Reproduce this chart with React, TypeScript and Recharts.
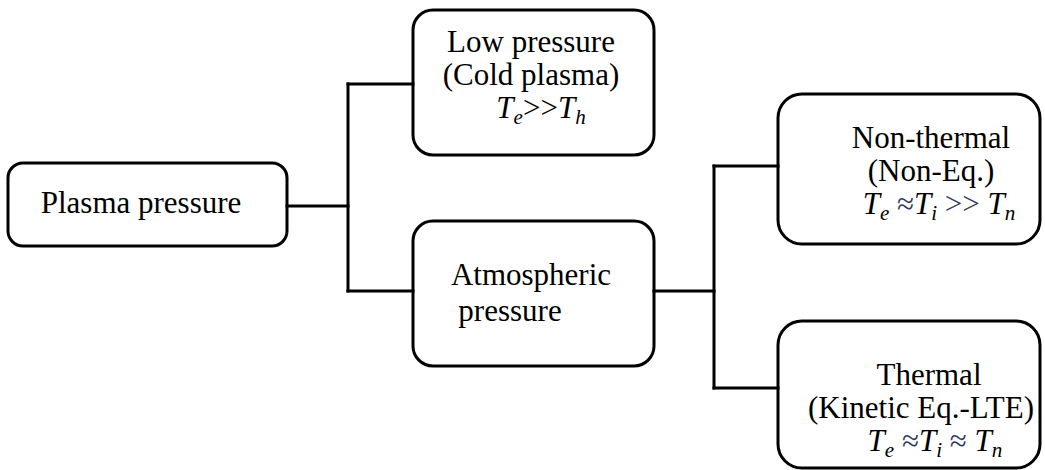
import React from "react"
import {
  ScatterChart,
  Scatter,
  XAxis,
  YAxis,
  ReferenceArea,
  ReferenceLine,
} from "recharts"

const W = 1045
const H = 470

// tree nodes
const nodeNames = [
  "Plasma pressure",
  "Low pressure",
  "Atmospheric pressure",
  "Non-thermal",
  "Thermal",
]
const nodeText = [
  ["Plasma pressure"],
  ["Low pressure", "(Cold plasma)", "$T_e>>T_h"],
  ["Atmospheric", "pressure"],
  ["Non-thermal", "(Non-Eq.)", "$T_e ≈T_i >> T_n"],
  ["Thermal", "(Kinetic Eq.-LTE)", "$T_e ≈T_i ≈ T_n"],
]
const nodeParent = [-1, 0, 0, 2, 2]

// box extents in sheet units
const boxX0 = [8, 413, 413, 778, 778]
const boxX1 = [287, 654, 654, 1040, 1040]
const boxY0 = [163, 10, 221, 94, 321]
const boxY1 = [246, 155, 366, 244, 468]
const portY = [206, 84, 291, 166, 388]
const busX = [348, 0, 714, 0, 0]
const labelX = [141, 531, 531, 931, 929]
const labelY = [213, 52, 285, 148, 385]

const FONT = '"Liberation Serif", "Times New Roman", Times, serif'
const fontSize = [31, 31, 31, 31, 31]
const lineGap = [0, 33, 36, 33, 33]
const lineShift = [[0], [0, 0, 10], [0, -21], [0, 0, 8], [0, -8, 6]]
const radius = [15, 20, 20, 24, 24]
const opColor = ["#000", "#000", "#000", "#2f3a62", "#2f3a62"]

type Seg = { t: string; italic?: boolean; sub?: boolean; op?: boolean }

function formula(line: string, fs: number, color: string) {
  const s = line.slice(1)
  const segs: Seg[] = []
  let i = 0
  while (i < s.length) {
    const ch = s[i]
    if (ch === "T") {
      segs.push({ t: "T", italic: true })
      i++
    } else if (ch === "_") {
      segs.push({ t: s[i + 1], italic: true, sub: true })
      i += 2
    } else if (ch === " ") {
      segs.push({ t: " " })
      i++
    } else {
      const last = segs[segs.length - 1]
      if (last && last.op) last.t += ch
      else segs.push({ t: ch, op: true })
      i++
    }
  }
  const shift = Math.round(fs * 0.2)
  return segs.map((sg, k) => {
    const prevSub = k > 0 && segs[k - 1].sub
    const dy = sg.sub ? shift : prevSub ? -shift : undefined
    return (
      <tspan
        key={k}
        dy={dy}
        fontStyle={sg.italic ? "italic" : "normal"}
        fontSize={sg.sub ? fs * 0.68 : fs}
        fill={sg.op ? color : "#000"}
        style={{ whiteSpace: "pre", fontFamily: FONT }}
      >
        {sg.t}
      </tspan>
    )
  })
}

function NodeLabel(props: any) {
  const { cx, cy, payload } = props
  const i = payload.i
  const fs = fontSize[i]
  return (
    <g style={{ fontFamily: FONT }}>
      {nodeText[i].map((line, j) => (
        <text
          key={j}
          x={cx + (lineShift[i][j] || 0)}
          y={cy + j * lineGap[i]}
          textAnchor="middle"
          fontSize={fs}
          fill="#000"
          style={{ whiteSpace: "pre", fontFamily: FONT }}
        >
          {line.startsWith("$") ? formula(line, fs, opColor[i]) : line}
        </text>
      ))}
    </g>
  )
}

const labelData = nodeNames.map((name, i) => ({
  name,
  i,
  x: labelX[i],
  y: labelY[i],
}))

// connector segments built from the tree
const segments: { x1: number; y1: number; x2: number; y2: number }[] = []
nodeParent.forEach((p, i) => {
  if (p < 0) return
  segments.push({ x1: busX[p], y1: portY[i], x2: boxX0[i], y2: portY[i] })
})
nodeNames.forEach((_, p) => {
  const kids = nodeParent.map((q, i) => (q === p ? i : -1)).filter((i) => i >= 0)
  if (!kids.length) return
  const ys = kids.map((k) => portY[k])
  segments.push({ x1: boxX1[p], y1: portY[p], x2: busX[p], y2: portY[p] })
  segments.push({ x1: busX[p], y1: Math.min(...ys), x2: busX[p], y2: Math.max(...ys) })
})

export default function App() {
  return (
    <div style={{ position: "absolute", left: 0, top: 0, background: "#fff" }}>
      <ScatterChart width={W} height={H} margin={{ top: 0, right: 0, bottom: 0, left: 0 }}>
        <XAxis type="number" dataKey="x" domain={[0, W]} hide />
        <YAxis type="number" dataKey="y" domain={[0, H]} reversed hide />
        {segments.map((s, k) => (
          <ReferenceLine
            key={"l" + k}
            segment={[
              { x: s.x1, y: s.y1 },
              { x: s.x2, y: s.y2 },
            ]}
            stroke="#000"
            strokeWidth={3}
            strokeLinecap="square"
            ifOverflow="visible"
          />
        ))}
        {nodeNames.map((name, i) => (
          <ReferenceArea
            key={name}
            x1={boxX0[i]}
            x2={boxX1[i]}
            y1={boxY0[i]}
            y2={boxY1[i]}
            ifOverflow="visible"
            shape={(p: any) => (
              <rect
                x={p.x}
                y={p.y}
                width={p.width}
                height={p.height}
                rx={radius[i]}
                ry={radius[i]}
                fill="none"
                stroke="#000"
                strokeWidth={3}
              />
            )}
          />
        ))}
        <Scatter
          data={labelData}
          isAnimationActive={false}
          shape={(p: any) => <NodeLabel {...p} />}
        />
      </ScatterChart>
    </div>
  )
}
